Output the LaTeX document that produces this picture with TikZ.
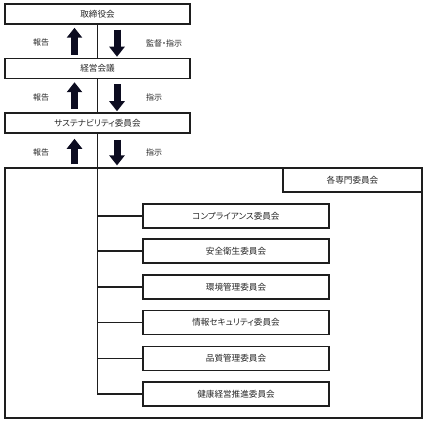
\documentclass[tikz,border=0pt]{standalone}
\usepackage{fontspec}
\setmainfont[RawFeature=+palt]{Noto Sans CJK JP}
\usepackage{tikz}
\usetikzlibrary{positioning, arrows.meta, calc}

\definecolor{arrowink}{RGB}{12,12,32}
\definecolor{lineink}{RGB}{30,30,30}

\tikzset{
  topbox/.style={draw=lineink, line width=1.5pt, minimum width=185pt, minimum height=20pt, inner sep=0pt, font=\fontsize{8.6pt}{10pt}\selectfont},
  combox/.style={draw=lineink, line width=1.5pt, minimum width=186pt, minimum height=24pt, inner sep=0pt, font=\fontsize{8.6pt}{10pt}\selectfont},
  bigarrow/.style={arrowink, line width=7pt, -{Triangle[width=15pt,length=10pt]}},
  trunk/.style={lineink, line width=1.2pt},
  lbl/.style={inner sep=0pt, text=black!85, font=\fontsize{8pt}{9pt}\selectfont}
}

\begin{document}
\begin{tikzpicture}[x=1pt, y=-1pt, text=black!85]
      \useasboundingbox (0,0) rectangle (427,422);

      \node[topbox] (board) at (97.5,14) {取締役会};
      \node[topbox] (mgmt) at (97.5,68.5) {経営会議};
      \node[topbox] (sust) at (97.5,123) {サステナビリティ委員会};

      \node[draw=lineink, line width=1.2pt, minimum width=417pt, minimum height=250pt, inner sep=0pt] (frame) at (213.5,293) {};
      \node[draw=lineink, line width=1.2pt, minimum width=139pt, minimum height=24pt, inner sep=0pt, anchor=north east, font=\fontsize{8.6pt}{10pt}\selectfont] (group) at (frame.north east) {各専門委員会};

      \node[combox] (com1) at (236,216) {コンプライアンス委員会};
      \node[combox] (com2) at (236,251) {安全衛生委員会};
      \node[combox] (com3) at (236,287) {環境管理委員会};
      \node[combox] (com4) at (236,322.5) {情報セキュリティ委員会};
      \node[combox] (com5) at (236,358.5) {品質管理委員会};
      \node[combox] (com6) at (236,394) {健康経営推進委員会};

      % report / instruction arrows
      \draw[bigarrow, shorten <=3pt, shorten >=3pt] ([xshift=-23pt]mgmt.north) -- ([xshift=-23pt]board.south);
      \draw[bigarrow, shorten <=5pt, shorten >=1pt] ([xshift=19.5pt]board.south) -- ([xshift=19.5pt]mgmt.north);
      \draw[bigarrow, shorten <=3pt, shorten >=3pt] ([xshift=-23pt]sust.north) -- ([xshift=-23pt]mgmt.south);
      \draw[bigarrow, shorten <=5pt, shorten >=1pt] ([xshift=19.5pt]mgmt.south) -- ([xshift=19.5pt]sust.north);
      \draw[bigarrow, shorten <=3pt, shorten >=5pt] ([xshift=-23pt]sust.south |- frame.north) -- ([xshift=-23pt]sust.south);
      \draw[bigarrow, shorten <=6pt, shorten >=2pt] ([xshift=19.5pt]sust.south) -- ([xshift=19.5pt]sust.south |- frame.north);

      \node[lbl] (rep1) at (41,42) {報告};
      \node[lbl] (rep2) at (41,97) {報告};
      \node[lbl] (rep3) at (41,152) {報告};
      \node[lbl, anchor=west] (ins1) at (146,43) {監督・指示};
      \node[lbl, anchor=west] (ins2) at (146,97) {指示};
      \node[lbl, anchor=west] (ins3) at (146,152) {指示};

      % trunk line
      \draw[trunk] (board.south) -- (mgmt.north);
      \draw[trunk] (mgmt.south) -- (sust.north);
      \draw[trunk] (sust.south) |- (com6.west);
      \draw[trunk] (com1.west) -- (com1.west -| sust.south);
      \draw[trunk] (com2.west) -- (com2.west -| sust.south);
      \draw[trunk] (com3.west) -- (com3.west -| sust.south);
      \draw[trunk] (com4.west) -- (com4.west -| sust.south);
      \draw[trunk] (com5.west) -- (com5.west -| sust.south);
    \end{tikzpicture}
\end{document}
